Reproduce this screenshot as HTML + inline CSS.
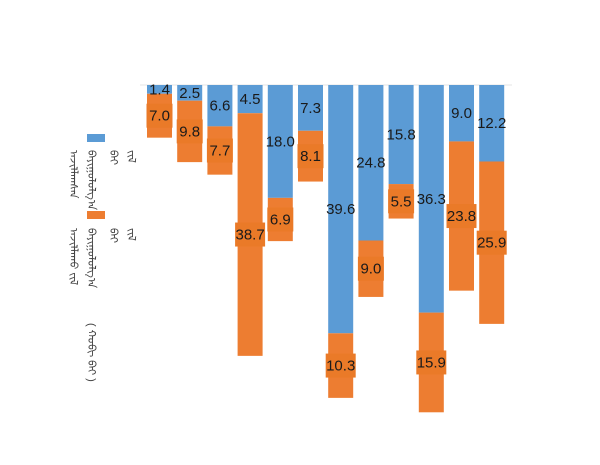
<!DOCTYPE html>
<html><head><meta charset="utf-8"><style>
body{margin:0;background:#fff;width:600px;height:465px;overflow:hidden;position:relative;font-family:"Liberation Sans",sans-serif}
.m{position:absolute;writing-mode:vertical-lr;font-size:11px;color:#444;line-height:13px}
</style></head><body>
<svg width="600" height="465" style="position:absolute;left:0;top:0" font-family="Liberation Sans, DejaVu Sans, sans-serif" font-size="15">
<line x1="140" y1="85" x2="512" y2="85" stroke="#e6e6e6"/>
<rect x="87" y="134" width="18" height="8" fill="#5B9BD5"/>
<rect x="87" y="211" width="18" height="8" fill="#ED7D31"/>
<g id="bars"></g>
</svg>
<div class="m" style="left:66px;top:150px">ᠠᠵᠢᠯᠯᠠᠭᠰᠠᠨ</div>
<div class="m" style="left:84px;top:150px">ᠪᠠᠶᠢᠭᠤᠯᠤᠯᠭ᠎ᠠ</div>
<div class="m" style="left:106px;top:150px">ᠪᠠᠢ</div>
<div class="m" style="left:124px;top:150px">ᠵᠢᠯ</div>
<div class="m" style="left:66px;top:228px">ᠠᠵᠢᠯᠯᠠᠬᠤ ᠵᠢᠯ</div>
<div class="m" style="left:84px;top:228px">ᠪᠠᠶᠢᠭᠤᠯᠤᠯᠭ᠎ᠠ</div>
<div class="m" style="left:106px;top:228px">ᠪᠠᠢ</div>
<div class="m" style="left:124px;top:228px">ᠵᠢᠯ</div>
<div class="m" style="left:84px;top:323px">( ᠬᠤᠪᠢ ᠪᠠᠢ )</div>
<script>
var b=[[1.4,7.0],[2.5,9.8],[6.6,7.7],[4.5,38.7],[18.0,6.9],[7.3,8.1],[39.6,10.3],[24.8,9.0],[15.8,5.5],[36.3,15.9],[9.0,23.8],[12.2,25.9]];
var s=6.27,top0=85,h='';
b.forEach(function(v,i){var x=147+i*30.2,w=25,bh=v[0]*s,oh=v[1]*s;
h+='<rect x="'+x+'" y="'+top0+'" width="'+w+'" height="'+bh+'" fill="#5B9BD5"/>';
h+='<rect x="'+x+'" y="'+(top0+bh)+'" width="'+w+'" height="'+oh+'" fill="#ED7D31"/>';
var cy=top0+bh/2,cx=x+w/2;
h+='<text x="'+cx+'" y="'+(cy+5)+'" text-anchor="middle" fill="#1a1a1a">'+v[0].toFixed(1)+'</text>';
var oy=top0+bh+oh/2,tw=v[1]>=10?30:26;
h+='<rect x="'+(cx-tw/2)+'" y="'+(oy-12)+'" width="'+tw+'" height="24" fill="#EA7A28"/>';
h+='<text x="'+cx+'" y="'+(oy+5)+'" text-anchor="middle" fill="#1a1a1a">'+v[1].toFixed(1)+'</text>';});
document.getElementById('bars').innerHTML=h;
</script>
</body></html>
